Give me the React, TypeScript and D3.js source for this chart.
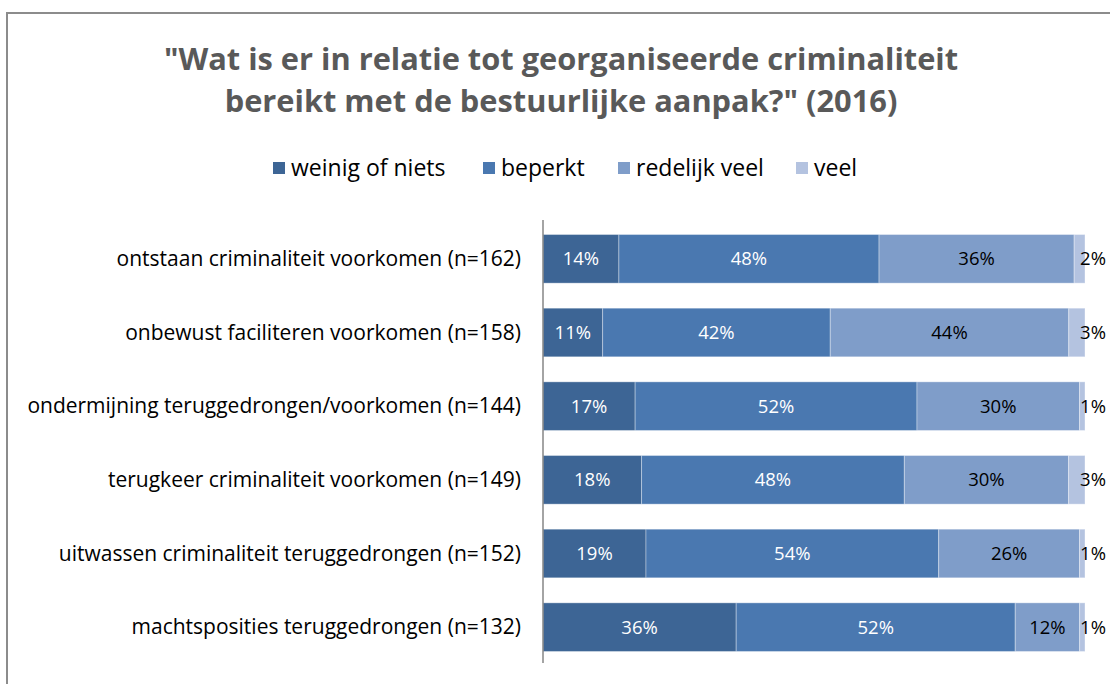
import React from "react";
import * as d3 from "d3";

const categories = [
  "ontstaan criminaliteit voorkomen (n=162)",
  "onbewust faciliteren voorkomen (n=158)",
  "ondermijning teruggedrongen/voorkomen (n=144)",
  "terugkeer criminaliteit voorkomen (n=149)",
  "uitwassen criminaliteit teruggedrongen (n=152)",
  "machtsposities teruggedrongen (n=132)",
];
const seriesNames = ["weinig of niets", "beperkt", "redelijk veel", "veel"];
const weinig = [14, 11, 17, 18, 19, 36];
const beperkt = [48, 42, 52, 48, 54, 52];
const redelijk = [36, 44, 30, 30, 26, 12];
const veel = [2, 3, 1, 3, 1, 1];
const colors = ["#3d6595", "#4a78b0", "#7f9dc9", "#b4c3e0"];
const labelColors = ["#ffffff", "#ffffff", "#000000", "#000000"];
const titleLines = [
  '"Wat is er in relatie tot georganiseerde criminaliteit',
  'bereikt met de bestuurlijke aanpak?" (2016)',
];

const W = 1110;
const H = 684;
const font = "'Open Sans', sans-serif";

export default function App() {
  const rows = categories.map((c, i) => ({
    cat: c,
    [seriesNames[0]]: weinig[i],
    [seriesNames[1]]: beperkt[i],
    [seriesNames[2]]: redelijk[i],
    [seriesNames[3]]: veel[i],
  }));
  const stack = d3.stack<any>().keys(seriesNames).offset(d3.stackOffsetExpand);
  const series = stack(rows);

  const x = d3.scaleLinear().domain([0, 1]).range([543, 1085]);
  const y = d3
    .scaleBand()
    .domain(categories)
    .range([222, 664])
    .paddingInner(0.34)
    .paddingOuter(0.17);

  const legendX = [273, 483, 618, 796];

  return (
    <svg
      width={W}
      height={H}
      style={{ position: "absolute", left: 0, top: 0, background: "#fff" }}
      fontFamily={font}
    >
      <rect x={7} y={13} width={W + 10} height={H + 10} fill="#fff" stroke="#8c8c8c" strokeWidth={2} />
      {titleLines.map((t, i) => (
        <text
          key={i}
          x={561}
          y={70 + i * 42}
          textAnchor="middle"
          fontSize={30.8}
          fontWeight="bold"
          fill="#595959"
        >
          {t}
        </text>
      ))}
      {seriesNames.map((s, i) => (
        <g key={s}>
          <rect x={legendX[i]} y={162} width={12} height={12} fill={colors[i]} />
          <text x={legendX[i] + 18} y={176} fontSize={23} fill="#000">
            {s}
          </text>
        </g>
      ))}
      {series.map((s, si) => (
        <g key={s.key}>
          {s.map((d, di) => (
            <rect
              key={di}
              x={x(d[0])}
              y={y(categories[di])}
              width={x(d[1]) - x(d[0])}
              height={y.bandwidth()}
              fill={colors[si]}
              stroke="#ffffff"
              strokeOpacity={0.35}
              strokeWidth={1}
            />
          ))}
        </g>
      ))}
      {series.map((s, si) => (
        <g key={"l" + s.key}>
          {s.map((d, di) => {
            const raw = [weinig, beperkt, redelijk, veel][si][di];
            const cx = si === 3 ? x(1) + 8 : (x(d[0]) + x(d[1])) / 2;
            return (
              <text
                key={di}
                x={cx}
                y={(y(categories[di]) as number) + y.bandwidth() / 2 + 6.5}
                textAnchor="middle"
                fontSize={18.5}
                fill={labelColors[si]}
              >
                {raw + "%"}
              </text>
            );
          })}
        </g>
      ))}
      <line x1={543} x2={543} y1={220} y2={663} stroke="#868686" strokeWidth={1.5} />
      {categories.map((c) => (
        <text
          key={c}
          x={521}
          y={(y(c) as number) + y.bandwidth() / 2 + 7}
          textAnchor="end"
          fontSize={21}
          fill="#000"
        >
          {c}
        </text>
      ))}
    </svg>
  );
}
